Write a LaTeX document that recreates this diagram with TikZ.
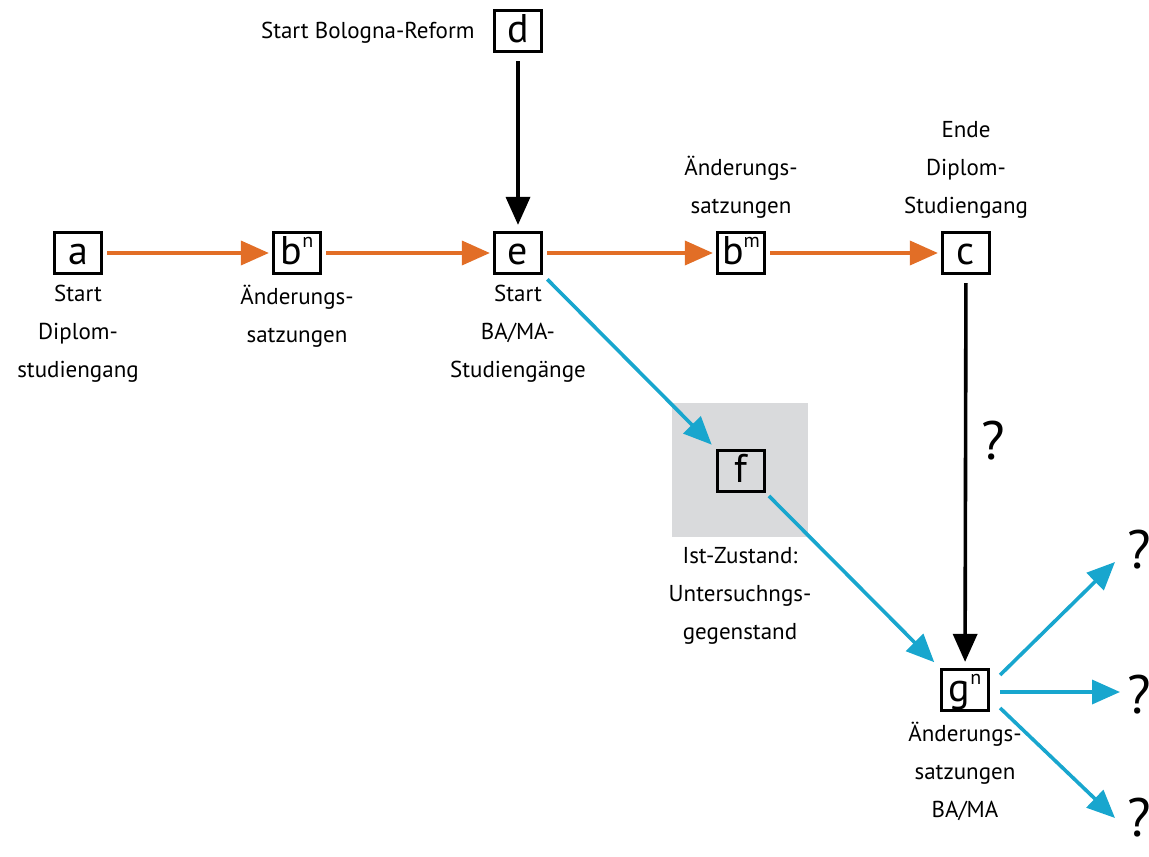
\documentclass[tikz,border=0pt]{standalone}
\usepackage{fontspec}
\setmainfont{PT Sans}
\usetikzlibrary{arrows.meta,positioning,calc}
\definecolor{pfeilorange}{RGB}{226,110,38}
\definecolor{pfeilblau}{RGB}{24,166,206}
\definecolor{feldgrau}{RGB}{217,218,220}
\newcommand{\hoch}[1]{\raisebox{8.5pt}{\fontsize{10}{10}\selectfont #1}}

\begin{document}
\begin{tikzpicture}[
    x=0.5pt, y=-0.5pt,
    box/.style={rectangle, draw, line width=1.6pt, minimum width=23.5pt, inner sep=1pt, text height=15pt, text depth=3.5pt, font=\fontsize{20}{20}\selectfont},
    beschr/.style={align=center, inner sep=0pt, font=\fontsize{11.5}{19}\selectfont, execute at begin node=\vphantom{Ä}},
    frage/.style={inner sep=1pt, font=\fontsize{27}{27}\selectfont},
    spitze/.style={-{Triangle[length=14pt, width=12pt]}, line width=1.8pt},
    orangepfeil/.style={spitze, draw=pfeilorange, shorten <=2pt, shorten >=1.5pt},
    schwarzpfeil/.style={spitze, draw=black, shorten <=4pt, shorten >=3pt},
    blaupfeil/.style={spitze, draw=pfeilblau}
]
    \useasboundingbox (0,0) rectangle (1149,856);

    % Untersuchungsfeld
    \node[fill=feldgrau, minimum width=68pt, minimum height=67pt] (feld) at (740,470) {};

    \node[box] (a) at (78,253) {a};
    \node[box] (bn) at (297,253) {b\hoch{n}};
    \node[box] (e) at (518,253) {e};
    \node[box] (bm) at (741,253) {b\hoch{m}};
    \node[box] (c) at (966,253) {c};
    \node[box] (d) at (518,31) {d};
    \node[box] (f) at (741,471) {f};
    \node[box] (g) at (965,690) {g\hoch{n}};

    \node[beschr, below=5pt of a] (atext) {Start\\Diplom-\\studiengang};
    \node[beschr, below=5pt of bn] (bntext) {Änderungs-\\satzungen};
    \node[beschr, below=5pt of e] (etext) {Start\\BA/MA-\\Studiengänge};
    \node[beschr, above=6pt of bm] (bmtext) {Änderungs-\\satzungen};
    \node[beschr, above=6pt of c] (ctext) {Ende\\Diplom-\\Studiengang};
    \node[beschr, left=9pt of d] (dtext) {Start Bologna-Reform};
    \node[beschr, below=5pt of feld] (ftext) {Ist-Zustand:\\Untersuchngs-\\gegenstand};
    \node[beschr, below=5pt of g] (gtext) {Änderungs-\\satzungen\\BA/MA};

    \node[frage] (q0) at (993,441) {?};
    \node[frage] (q1) at (1139,550) {?};
    \node[frage] (q2) at (1139,695) {?};
    \node[frage] (q3) at (1139,818) {?};

    \draw[orangepfeil] (a) -- (bn);
    \draw[orangepfeil] (bn) -- (e);
    \draw[orangepfeil] (e) -- (bm);
    \draw[orangepfeil] (bm) -- (c);

    \draw[schwarzpfeil] (d) -- (e);
    \draw[schwarzpfeil] (c) -- (g);

    \draw[blaupfeil, shorten <=3pt, shorten >=3pt] (e.south east) -- (f.north west);
    \draw[blaupfeil, shorten <=2pt, shorten >=4pt] (f.south east) -- (g.north west);
    \draw[blaupfeil] ($(g.east)+(10,-15)$) -- ($(q1)+(-24,12)$);
    \draw[blaupfeil] ($(g.east)+(10,2)$) -- ($(q2)+(-19,-3)$);
    \draw[blaupfeil] ($(g.east)+(10,18)$) -- ($(q3)+(-24,0)$);
\end{tikzpicture}
\end{document}
